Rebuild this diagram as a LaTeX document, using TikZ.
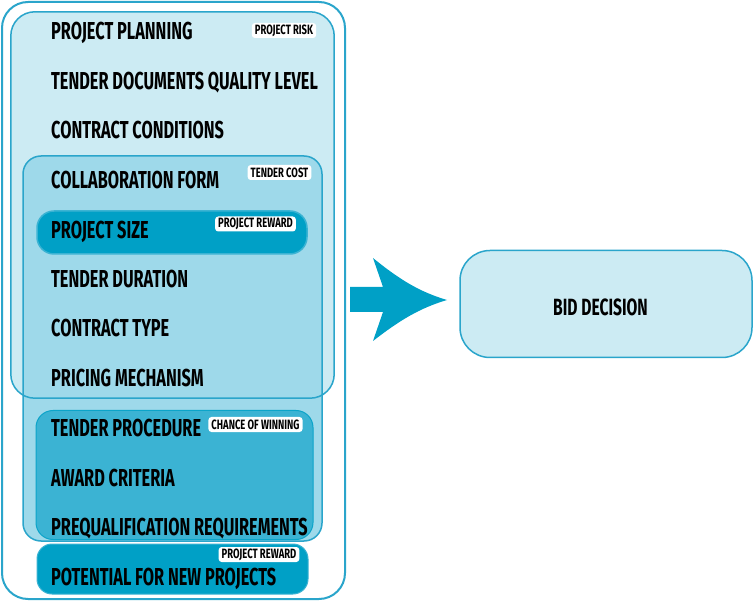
\documentclass[tikz,border=0pt]{standalone}
\usepackage{fontspec}
\newfontfamily\condfont{Fira Sans}[FakeStretch=0.665]
\newfontfamily\tagfont{Fira Sans}[FakeStretch=0.7]
\definecolor{edgeblue}{HTML}{2AA5CB}
\definecolor{paleblue}{HTML}{CCEBF3}
\definecolor{midblue}{HTML}{9ED9EA}
\definecolor{deepblue}{HTML}{00A0C6}
\definecolor{winblue}{HTML}{3BB3D3}
\tikzset{
  panel/.style={draw=edgeblue, line width=1.5pt, inner sep=0pt},
  item/.style={anchor=base west, inner sep=0pt, text=black,
    font=\condfont\bfseries\fontsize{24.5}{26}\selectfont},
  tag/.style={fill=white, rounded corners=3pt, inner xsep=3pt, inner ysep=0pt,
    minimum height=15pt, text=black,
    font=\tagfont\bfseries\fontsize{13.5}{14}\selectfont},
}
\begin{document}
\begin{tikzpicture}[x=1pt, y=-1pt]
\useasboundingbox (0,0) rectangle (755,601);

% outer frame holding all factor groups
\node[panel, line width=2pt, fill=white, rounded corners=26pt,
  minimum width=343pt, minimum height=597pt] (frame) at (173.5,300.5) {};

% project risk group (fill first, outline redrawn later)
\node[fill=paleblue, rounded corners=24pt, inner sep=0pt,
  minimum width=323pt, minimum height=386pt] (risk) at (172.5,205) {};

% tender cost group
\node[panel, fill=midblue, rounded corners=18pt,
  minimum width=299pt, minimum height=385pt] (cost) at (172.5,348.5) {};

% outline of the project risk group on top
\draw[edgeblue, line width=1.5pt, rounded corners=24pt]
  (risk.south west) rectangle (risk.north east);

% project size band
\node[panel, draw=winblue, fill=deepblue, rounded corners=17pt,
  minimum width=270pt, minimum height=43pt] (size) at (172,232.5) {};

% chance of winning group
\node[panel, draw=deepblue!80!winblue, line width=1pt, fill=winblue, rounded corners=17pt,
  minimum width=277pt, minimum height=129pt] (win) at (174.5,475) {};

% potential for new projects band
\node[panel, draw=winblue, line width=1pt, fill=deepblue, rounded corners=15pt,
  minimum width=271pt, minimum height=50pt] (potential) at (172.5,569) {};

% factors
\node[item] (p1) at (51,40) {PROJECT PLANNING};
\node[item] (p2) at (51,90) {TENDER DOCUMENTS QUALITY LEVEL};
\node[item] (p3) at (51,139) {CONTRACT CONDITIONS};
\node[item] (c1) at (51,189) {COLLABORATION FORM};
\node[item] (c2) at (51,239) {PROJECT SIZE};
\node[item] (c3) at (51,288) {TENDER DURATION};
\node[item] (c4) at (51,337) {CONTRACT TYPE};
\node[item] (c5) at (51,387) {PRICING MECHANISM};
\node[item] (w1) at (51,436) {TENDER PROCEDURE};
\node[item] (w2) at (51,486) {AWARD CRITERIA};
\node[item] (w3) at (51,535) {PREQUALIFICATION REQUIREMENTS};
\node[item] (n1) at (51,585) {POTENTIAL FOR NEW PROJECTS};

% group tags
\node[tag] (t1) at (284,30.5) {PROJECT RISK};
\node[tag] (t2) at (279.5,172.5) {TENDER COST};
\node[tag] (t3) at (255.5,224) {PROJECT REWARD};
\node[tag] (t4) at (255.5,424.5) {CHANCE OF WINNING};
\node[tag] (t5) at (259,554.5) {PROJECT REWARD};

% decision box
\node[panel, fill=paleblue, rounded corners=30pt,
  minimum width=292pt, minimum height=107pt] (bid) at (606,304) {};
\node[font=\condfont\bfseries\fontsize{23.5}{24}\selectfont, inner sep=0pt,
  anchor=base] (bidtext) at (600.5,316) {BID DECISION};

% block arrow towards the decision
\fill[deepblue] (350,287) -- (383,287) -- (373,258)
  .. controls (400,280) and (420,292) .. (447,300)
  .. controls (420,308) and (400,320) .. (373,341)
  -- (383,312) -- (350,312) -- cycle;
\end{tikzpicture}
\end{document}
